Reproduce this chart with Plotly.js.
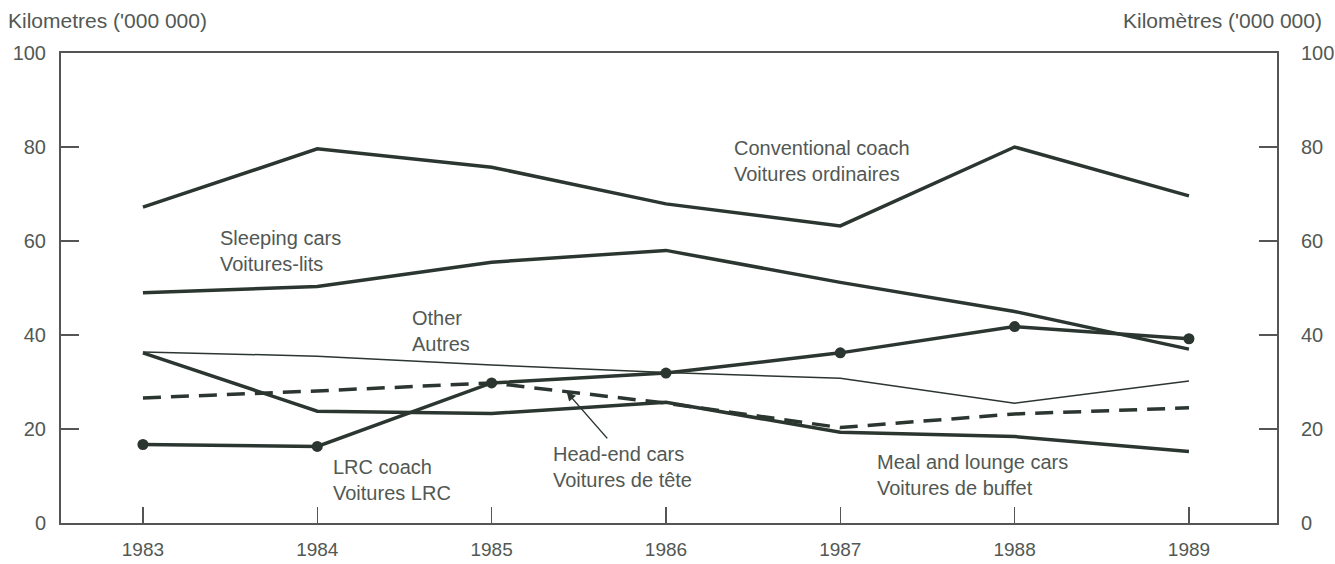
<!DOCTYPE html>
<html>
<head>
<meta charset="utf-8">
<script src="https://cdn.plot.ly/plotly-3.0.1.min.js"></script>
<style>html,body{margin:0;padding:0;background:#fff;}#chart{width:1335px;height:564px;}</style>
</head>
<body>
<div id="chart"></div>
<script>
const years = [1983, 1984, 1985, 1986, 1987, 1988, 1989];
const conventionalCoach = [67.2, 79.6, 75.7, 67.9, 63.2, 80.0, 69.6];
const sleepingCars = [49.0, 50.3, 55.5, 58.0, 51.2, 45.0, 37.0];
const lrcCoach = [16.7, 16.3, 29.8, 31.9, 36.2, 41.8, 39.2];
const other = [36.4, 35.5, 33.6, 32.0, 30.8, 25.5, 30.2];
const mealLounge = [36.2, 23.8, 23.3, 25.7, 19.3, 18.4, 15.2];
const headEnd = [26.6, 28.1, 29.8, 25.5, 20.3, 23.2, 24.5];
const yTicks = [0, 20, 40, 60, 80, 100];

const lineCol = '#2c3631';
const textCol = '#525854';
const fontFam = '"Liberation Sans", Arial, Helvetica, sans-serif';

const traces = [
  {x: years, y: conventionalCoach, mode: 'lines', line: {color: lineCol, width: 3.5}, yaxis: 'y2'},
  {x: years, y: sleepingCars, mode: 'lines', line: {color: lineCol, width: 3.5}},
  {x: years, y: other, mode: 'lines', line: {color: lineCol, width: 1.5}},
  {x: years, y: headEnd, mode: 'lines', line: {color: lineCol, width: 3.5, dash: '18px,10px'}},
  {x: years, y: mealLounge, mode: 'lines', line: {color: lineCol, width: 3.5}},
  {x: years, y: lrcCoach, mode: 'lines+markers', line: {color: lineCol, width: 3.5}, marker: {color: lineCol, size: 11}}
];

function lbl(x, y, t) {
  return {x: x, y: y, xref: 'x', yref: 'y', text: t, showarrow: false, xanchor: 'left', yanchor: 'middle', align: 'left',
    font: {family: fontFam, size: 20, color: textCol}};
}

const layout = {
  width: 1335, height: 564,
  margin: {l: 61, r: 58, t: 53, b: 41},
  paper_bgcolor: '#fff', plot_bgcolor: '#fff',
  showlegend: false,
  font: {family: fontFam, size: 19, color: textCol},
  xaxis: {
    range: [1982.53, 1989.505], tickvals: years, ticktext: years.map(String),
    ticks: 'inside', ticklen: 16, tickwidth: 1.5, tickcolor: '#555',
    showline: true, linecolor: '#555', linewidth: 2, mirror: true,
    showgrid: false, zeroline: false, ticklabelstandoff: 8,
    tickfont: {family: fontFam, size: 19, color: textCol}
  },
  yaxis: {
    range: [0, 100], tickvals: yTicks, ticks: 'inside', ticklen: 18, tickwidth: 1.5, tickcolor: '#555',
    showline: true, linecolor: '#555', linewidth: 2, showgrid: false, zeroline: false,
    ticklabelstandoff: 9, tickfont: {family: fontFam, size: 20, color: textCol}
  },
  yaxis2: {
    range: [0, 100], tickvals: yTicks, overlaying: 'y', side: 'right', ticks: 'inside', ticklen: 18, tickwidth: 1.5, tickcolor: '#555',
    showline: true, linecolor: '#555', linewidth: 2, showgrid: false, zeroline: false,
    ticklabelstandoff: 18, tickfont: {family: fontFam, size: 20, color: textCol}
  },
  annotations: [
    {x: 0, y: 1, xref: 'paper', yref: 'paper', xshift: -55, yshift: 33, text: "Kilometres ('000 000)", showarrow: false,
      xanchor: 'left', yanchor: 'middle', font: {family: fontFam, size: 21, color: textCol}},
    {x: 1, y: 1, xref: 'paper', yref: 'paper', xshift: 47, yshift: 33, text: "Kilomètres ('000 000)", showarrow: false,
      xanchor: 'right', yanchor: 'middle', font: {family: fontFam, size: 21, color: textCol}},
    lbl(1986.38, 77.0, 'Conventional coach<br>Voitures ordinaires'),
    lbl(1983.43, 57.9, 'Sleeping cars<br>Voitures-lits'),
    lbl(1984.53, 40.9, 'Other<br>Autres'),
    lbl(1985.34, 12.0, 'Head-end cars<br>Voitures de tête'),
    lbl(1984.08, 9.1, 'LRC coach<br>Voitures LRC'),
    lbl(1987.2, 10.3, 'Meal and lounge cars<br>Voitures de buffet'),
    {x: 1985.43, y: 27.9, xref: 'x', yref: 'y', text: '', showarrow: true, ax: 42, ay: 48,
      arrowhead: 2, arrowsize: 1.2, arrowwidth: 1.5, arrowcolor: lineCol}
  ]
};

Plotly.newPlot('chart', traces, layout, {displayModeBar: false, staticPlot: true});
</script>
</body>
</html>
